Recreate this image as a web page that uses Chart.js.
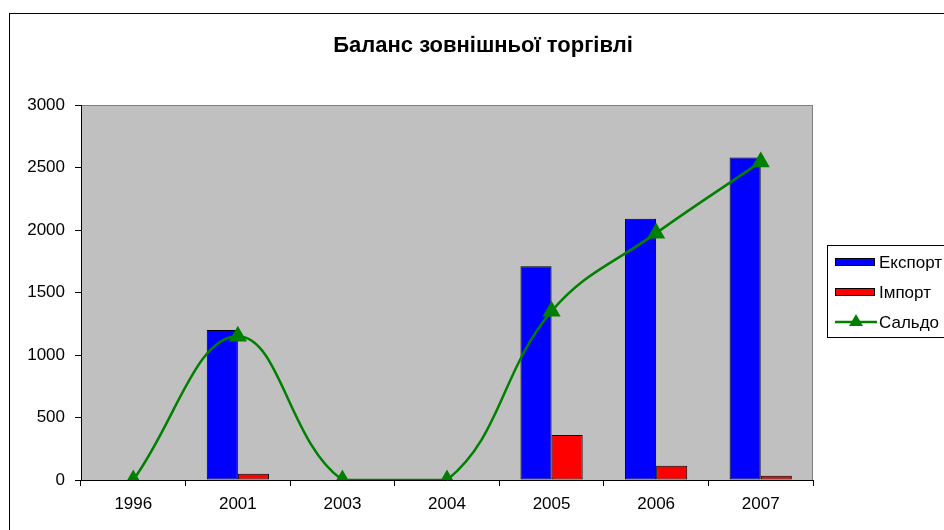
<!DOCTYPE html>
<html>
<head>
<meta charset="utf-8">
<script src="https://cdn.jsdelivr.net/npm/chart.js@4/dist/chart.umd.min.js"></script>
<style>
  html, body { margin: 0; padding: 0; background: #fff; }
  canvas { display: block; }
</style>
</head>
<body>
<canvas id="tradeChart" width="944" height="530"></canvas>
<script>
// Data
const years = ['1996', '2001', '2003', '2004', '2005', '2006', '2007'];
const exportValues = [0, 1200, 0, 0, 1710, 2090, 2580];
const importValues = [0, 50, 0, 0, 360, 115, 35];
const saldoValues = [0, 1150, 0, 0, 1350, 1975, 2545];
const yTicks = [0, 500, 1000, 1500, 2000, 2500, 3000];

const chartTitle = 'Баланс зовнішньої торгівлі';
const FONT = '"Liberation Sans", Arial, sans-serif';

// Frame, grey plot area, title and a boxed legend like the Excel original
const excelLook = {
    id: 'excelLook',
    beforeDraw(chart) {
        const ctx = chart.ctx;
        const a = chart.chartArea;
        ctx.save();
        ctx.fillStyle = '#ffffff';
        ctx.fillRect(0, 0, chart.width, chart.height);
        ctx.strokeStyle = '#000000';
        ctx.lineWidth = 1;
        ctx.strokeRect(9.5, 13.5, 1200, 800);
        ctx.fillStyle = '#c0c0c0';
        ctx.fillRect(a.left, a.top, a.right - a.left, a.bottom - a.top);
        ctx.strokeStyle = '#808080';
        ctx.strokeRect(Math.round(a.left) + 0.5, Math.round(a.top) + 0.5,
            Math.round(a.right - a.left) - 1, Math.round(a.bottom - a.top));
        ctx.restore();
    },
    afterDraw(chart) {
        const ctx = chart.ctx;
        ctx.save();
        ctx.fillStyle = '#000000';
        ctx.font = 'bold 22px ' + FONT;
        ctx.textAlign = 'center';
        ctx.textBaseline = 'alphabetic';
        ctx.fillText(chartTitle, 483, 52);

        // legend box
        ctx.strokeStyle = '#000000';
        ctx.lineWidth = 1;
        ctx.fillStyle = '#ffffff';
        ctx.fillRect(827.5, 245.5, 200, 92);
        ctx.strokeRect(827.5, 245.5, 200, 92);
        ctx.font = '17px ' + FONT;
        ctx.textAlign = 'left';
        ctx.textBaseline = 'middle';
        const rows = [262, 292, 322];
        chart.data.datasets.forEach((ds, i) => {
            const y = rows[i];
            if (ds.type === 'line') {
                ctx.strokeStyle = ds.borderColor;
                ctx.lineWidth = 2.5;
                ctx.beginPath();
                ctx.moveTo(835, y);
                ctx.lineTo(877, y);
                ctx.stroke();
                ctx.fillStyle = ds.pointBackgroundColor;
                const r = 8;
                ctx.beginPath();
                ctx.moveTo(856, y - r);
                ctx.lineTo(856 + r * 0.866, y + r * 0.5);
                ctx.lineTo(856 - r * 0.866, y + r * 0.5);
                ctx.closePath();
                ctx.fill();
            } else {
                ctx.fillStyle = ds.backgroundColor;
                ctx.fillRect(835.5, y - 3.5, 39, 7);
                ctx.strokeStyle = '#000000';
                ctx.lineWidth = 1;
                ctx.strokeRect(835.5, y - 3.5, 39, 7);
            }
            ctx.fillStyle = '#000000';
            ctx.fillText(ds.label, 879, y + 1);
        });
        ctx.restore();
    }
};

const barStyle = {
    borderColor: '#000000',
    borderWidth: 1,
    borderSkipped: false,
    categoryPercentage: 0.595,
    barPercentage: 1,
    order: 2,
};

const ctx = document.getElementById('tradeChart').getContext('2d');
new Chart(ctx, {
    type: 'bar',
    data: {
        labels: years,
        datasets: [
            Object.assign({ label: 'Експорт', data: exportValues, backgroundColor: '#0000ff' }, barStyle),
            Object.assign({ label: 'Імпорт', data: importValues, backgroundColor: '#ff0000' }, barStyle),
            {
                type: 'line',
                label: 'Сальдо',
                data: saldoValues,
                borderColor: '#008000',
                backgroundColor: '#008000',
                pointBackgroundColor: '#008000',
                pointBorderColor: '#008000',
                borderWidth: 2.5,
                tension: 0.4,
                pointStyle: 'triangle',
                pointRadius: 8,
                pointHoverRadius: 8,
                fill: false,
                order: 0,
            },
        ],
    },
    options: {
        responsive: false,
        animation: false,
        events: [],
        layout: {
            padding: { top: 105, right: 131, left: 0, bottom: 0 },
        },
        plugins: {
            legend: { display: false },
            title: { display: false },
            tooltip: { enabled: false },
        },
        scales: {
            x: {
                offset: true,
                grid: {
                    offset: true,
                    drawOnChartArea: false,
                    color: '#000000',
                    tickLength: 6,
                },
                border: { color: '#000000', width: 1 },
                ticks: {
                    color: '#000000',
                    font: { family: FONT, size: 17 },
                    padding: 8,
                    maxRotation: 0,
                },
                afterFit(scale) { scale.height = 50; },
            },
            y: {
                min: 0,
                max: 3000,
                afterBuildTicks(scale) {
                    scale.ticks = yTicks.map(v => ({ value: v }));
                },
                grid: {
                    drawOnChartArea: false,
                    color: '#000000',
                    tickLength: 6,
                },
                border: { color: '#000000', width: 1 },
                ticks: {
                    color: '#000000',
                    font: { family: FONT, size: 17 },
                    padding: 10,
                    callback: value => String(value),
                },
                afterFit(scale) { scale.width = 81; },
            },
        },
    },
    plugins: [excelLook],
});
</script>
</body>
</html>
